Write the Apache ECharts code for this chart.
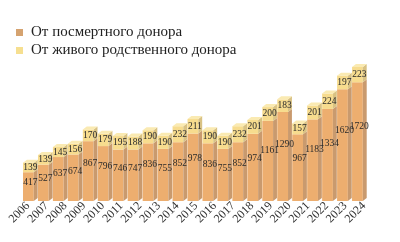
<!DOCTYPE html>
<html><head><meta charset="utf-8">
<script src="https://cdn.jsdelivr.net/npm/echarts@6/dist/echarts.min.js"></script>
<style>html,body{margin:0;padding:0;background:#fff}#c{width:400px;height:242px}</style>
</head><body><div id="c"></div>
<script>
// Year tick labels (19) printed under the bars
const yearLabels = ['2006','2007','2008','2009','2010','2011','2012','2013','2014','2015','2016','2017','2018','2019','2020','2021','2022','2023','2024'];
// Bars as drawn, left to right (23 columns)
const barIds = ['b1','b2','b3','b4','b5','b6','b7','b8','b9','b10','b11','b12','b13','b14','b15','b16','b17','b18','b19','b20','b21','b22','b23'];
const postmortem = [417,527,637,674,867,796,746,747,836,755,852,978,836,755,852,974,1161,1290,967,1183,1334,1620,1720];
const living     = [139,139,145,156,170,179,195,188,190,190,232,211,190,190,232,201,200,183,157,201,224,197,223];
const seriesNames = ['От посмертного донора','От живого родственного донора'];

const SERIF = '"Liberation Serif","DejaVu Serif",serif';
const C = {
  oFront:'#EDAE6F', oSide:'#C99A6E', oLegend:'#D5A370',
  yFront:'#F7DC8E', ySide:'#D9C283', yTop:'#FAEAB2', yLegend:'#F6DF90'
};

function geom(api, cat, lo, hi){
  const cw = api.size([1,0])[0];
  const pLo = api.coord([cat, lo]), pHi = api.coord([cat, hi]);
  const fw = cw*0.72, dx = cw*0.26, dy = 3;
  const x0 = pLo[0] - cw/2;
  return {x0, fw, dx, dy, yLo:pLo[1], yHi:pHi[1], cx: x0 + (fw+dx)/2};
}

function renderPost(params, api){
  const i = api.value(0), v = api.value(1);
  const g = geom(api, i, 0, v);
  const labY = api.coord([i, v*0.63])[1];
  return {type:'group', children:[
    {type:'rect', shape:{x:g.x0, y:g.yHi, width:g.fw, height:g.yLo-g.yHi}, style:{fill:C.oFront}},
    {type:'polygon', shape:{points:[[g.x0+g.fw,g.yLo],[g.x0+g.fw+g.dx,g.yLo-g.dy],[g.x0+g.fw+g.dx,g.yHi-g.dy],[g.x0+g.fw,g.yHi]]}, style:{fill:C.oSide}},
    {type:'text', z2:20, style:{text:String(v), x:g.cx, y:labY, textAlign:'center', textVerticalAlign:'middle', font:'9.5px '+SERIF, fill:'#2a2a2a'}}
  ]};
}
function renderLive(params, api){
  const i = api.value(0), base = api.value(1), v = api.value(2);
  const g = geom(api, i, base, base+v);
  const labY = (g.yLo + g.yHi)/2;
  return {type:'group', children:[
    {type:'rect', shape:{x:g.x0, y:g.yHi, width:g.fw, height:g.yLo-g.yHi}, style:{fill:C.yFront}},
    {type:'polygon', shape:{points:[[g.x0+g.fw,g.yLo],[g.x0+g.fw+g.dx,g.yLo-g.dy],[g.x0+g.fw+g.dx,g.yHi-g.dy],[g.x0+g.fw,g.yHi]]}, style:{fill:C.ySide}},
    {type:'polygon', shape:{points:[[g.x0,g.yHi],[g.x0+g.dx,g.yHi-g.dy],[g.x0+g.fw+g.dx,g.yHi-g.dy],[g.x0+g.fw,g.yHi]]}, style:{fill:C.yTop}},
    {type:'text', z2:20, style:{text:String(v), x:g.cx, y:labY, textAlign:'center', textVerticalAlign:'middle', font:'9.5px '+SERIF, fill:'#2a2a2a'}}
  ]};
}

const chart = echarts.init(document.getElementById('c'), null, {renderer:'canvas'});
chart.setOption({
  animation:false,
  backgroundColor:'#fff',
  legend:{
    orient:'vertical', left:11, top:20, itemWidth:7, itemHeight:7, itemGap:3,
    icon:'rect',
    textStyle:{fontFamily:SERIF, fontSize:15, color:'#222', padding:[0,0,0,3]},
    data:seriesNames
  },
  grid:[
    {left:23, right:33, top:63, bottom:41},
    {left:28, right:36, top:63, bottom:41}
  ],
  xAxis:[
    {type:'category', gridIndex:0, data:barIds, show:false},
    {type:'category', gridIndex:1, data:yearLabels, boundaryGap:false,
     axisLine:{show:false}, axisTick:{show:false},
     axisLabel:{rotate:45, fontFamily:SERIF, fontSize:12, color:'#333', margin:3, interval:0}}
  ],
  yAxis:[
    {type:'value', gridIndex:0, min:0, max:2000, show:false},
    {type:'value', gridIndex:1, min:0, max:2000, show:false}
  ],
  series:[
    {type:'custom', name:seriesNames[0], xAxisIndex:0, yAxisIndex:0, renderItem:renderPost,
     itemStyle:{color:C.oLegend}, encode:{x:0, y:1},
     data:postmortem.map((v,i)=>[i,v])},
    {type:'custom', name:seriesNames[1], xAxisIndex:0, yAxisIndex:0, renderItem:renderLive,
     itemStyle:{color:C.yLegend}, encode:{x:0, y:[1,2]},
     data:living.map((v,i)=>[i, postmortem[i], v])}
  ]
});
</script>
</body></html>
